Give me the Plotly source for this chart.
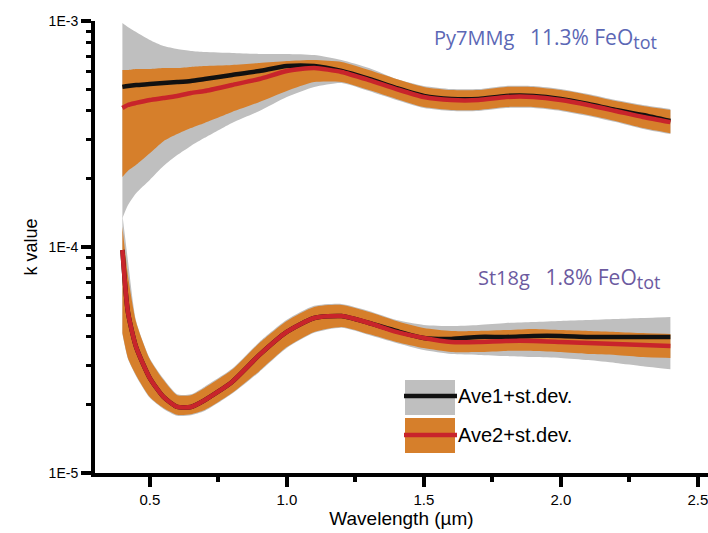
import plotly.graph_objects as go

# ---------------- data (k value vs wavelength) ----------------
wavelength = [0.40, 0.42, 0.45, 0.50, 0.55, 0.60, 0.65, 0.70, 0.80, 0.90, 1.00, 1.10, 1.20,
              1.30, 1.40, 1.50, 1.60, 1.70, 1.80, 1.90, 2.00, 2.10, 2.20, 2.30, 2.40]

# Py7MMg  (11.3% FeO_tot)
py_ave1 = [5.11e-4, 5.16e-4, 5.21e-4, 5.26e-4, 5.32e-4, 5.37e-4, 5.43e-4, 5.54e-4, 5.77e-4, 6.01e-4,
           6.32e-4, 6.32e-4, 6.01e-4, 5.54e-4, 5.05e-4, 4.66e-4, 4.52e-4, 4.52e-4, 4.66e-4, 4.66e-4,
           4.52e-4, 4.29e-4, 4.04e-4, 3.84e-4, 3.61e-4]
py_ave1_hi = [9.80e-4, 9.41e-4, 8.94e-4, 8.24e-4, 7.75e-4, 7.52e-4, 7.37e-4, 7.29e-4, 7.22e-4, 7.15e-4,
              7.15e-4, 7.07e-4, 6.72e-4, 6.19e-4, 5.54e-4, 5.16e-4, 5.00e-4, 5.00e-4, 5.16e-4, 5.16e-4,
              5.00e-4, 4.75e-4, 4.47e-4, 4.25e-4, 4.08e-4]
py_ave1_lo = [1.34e-4, 1.53e-4, 1.73e-4, 1.98e-4, 2.28e-4, 2.55e-4, 2.80e-4, 3.04e-4, 3.54e-4, 4.00e-4,
              4.61e-4, 5.11e-4, 5.32e-4, 4.90e-4, 4.47e-4, 4.12e-4, 4.00e-4, 4.00e-4, 4.12e-4, 4.12e-4,
              4.00e-4, 3.80e-4, 3.57e-4, 3.33e-4, 3.16e-4]
py_ave2 = [4.12e-4, 4.25e-4, 4.34e-4, 4.47e-4, 4.56e-4, 4.66e-4, 4.80e-4, 4.90e-4, 5.21e-4, 5.54e-4,
           6.01e-4, 6.19e-4, 5.95e-4, 5.48e-4, 5.00e-4, 4.61e-4, 4.47e-4, 4.47e-4, 4.61e-4, 4.61e-4,
           4.47e-4, 4.25e-4, 4.00e-4, 3.76e-4, 3.57e-4]
py_ave2_hi = [6.07e-4, 6.07e-4, 6.13e-4, 6.13e-4, 6.19e-4, 6.19e-4, 6.26e-4, 6.32e-4, 6.39e-4, 6.52e-4,
              6.65e-4, 6.72e-4, 6.59e-4, 6.07e-4, 5.54e-4, 5.11e-4, 4.95e-4, 4.95e-4, 5.11e-4, 5.11e-4,
              4.95e-4, 4.71e-4, 4.43e-4, 4.21e-4, 4.04e-4]
py_ave2_lo = [2.04e-4, 2.17e-4, 2.31e-4, 2.60e-4, 2.94e-4, 3.16e-4, 3.36e-4, 3.54e-4, 3.96e-4, 4.38e-4,
              4.90e-4, 5.37e-4, 5.37e-4, 4.95e-4, 4.52e-4, 4.16e-4, 4.04e-4, 4.04e-4, 4.16e-4, 4.16e-4,
              4.04e-4, 3.84e-4, 3.61e-4, 3.36e-4, 3.19e-4]

# St18g  (1.8% FeO_tot)
st_ave1 = [9.70e-5, 5.16e-5, 3.61e-5, 2.63e-5, 2.17e-5, 1.96e-5, 1.96e-5, 2.10e-5, 2.53e-5, 3.33e-5,
           4.21e-5, 4.85e-5, 4.95e-5, 4.61e-5, 4.25e-5, 3.96e-5, 3.92e-5, 4.00e-5, 4.00e-5, 4.04e-5,
           4.04e-5, 4.00e-5, 4.00e-5, 4.00e-5, 4.00e-5]
st_ave1_hi = [1.39e-4, 8.76e-5, 4.71e-5, 3.22e-5, 2.61e-5, 2.23e-5, 2.23e-5, 2.41e-5, 2.89e-5, 3.80e-5,
              4.76e-5, 5.49e-5, 5.60e-5, 5.21e-5, 4.75e-5, 4.52e-5, 4.47e-5, 4.52e-5, 4.61e-5, 4.66e-5,
              4.71e-5, 4.75e-5, 4.80e-5, 4.85e-5, 4.90e-5]
st_ave1_lo = [4.12e-5, 3.20e-5, 2.68e-5, 2.15e-5, 1.92e-5, 1.79e-5, 1.80e-5, 1.88e-5, 2.24e-5, 2.80e-5,
              3.57e-5, 4.17e-5, 4.39e-5, 4.08e-5, 3.76e-5, 3.50e-5, 3.36e-5, 3.33e-5, 3.29e-5, 3.26e-5,
              3.23e-5, 3.16e-5, 3.07e-5, 2.97e-5, 2.88e-5]
st_ave2 = [9.70e-5, 5.16e-5, 3.61e-5, 2.63e-5, 2.17e-5, 1.96e-5, 1.96e-5, 2.10e-5, 2.53e-5, 3.33e-5,
           4.21e-5, 4.85e-5, 4.95e-5, 4.61e-5, 4.21e-5, 3.96e-5, 3.80e-5, 3.80e-5, 3.84e-5, 3.84e-5,
           3.80e-5, 3.76e-5, 3.72e-5, 3.68e-5, 3.65e-5]
st_ave2_hi = [1.23e-4, 7.52e-5, 4.66e-5, 3.19e-5, 2.58e-5, 2.21e-5, 2.21e-5, 2.38e-5, 2.86e-5, 3.76e-5,
              4.71e-5, 5.43e-5, 5.54e-5, 5.16e-5, 4.71e-5, 4.38e-5, 4.25e-5, 4.25e-5, 4.29e-5, 4.34e-5,
              4.29e-5, 4.25e-5, 4.21e-5, 4.16e-5, 4.12e-5]
st_ave2_lo = [4.16e-5, 3.23e-5, 2.71e-5, 2.17e-5, 1.94e-5, 1.81e-5, 1.82e-5, 1.90e-5, 2.26e-5, 2.83e-5,
              3.61e-5, 4.21e-5, 4.43e-5, 4.12e-5, 3.80e-5, 3.57e-5, 3.43e-5, 3.43e-5, 3.47e-5, 3.47e-5,
              3.43e-5, 3.36e-5, 3.33e-5, 3.26e-5, 3.23e-5]

y_tick_vals = [1e-5, 1e-4, 1e-3]
y_tick_text = ["1E-5", "1E-4", "1E-3"]
y_minor_vals = [m * d for d in (1e-5, 1e-4) for m in range(2, 10)]
x_tick_vals = [0.5, 1.0, 1.5, 2.0, 2.5]
x_tick_text = ["0.5", "1.0", "1.5", "2.0", "2.5"]
x_minor_vals = [0.75, 1.25, 1.75, 2.25]

legend_labels = ["Ave1+st.dev.", "Ave2+st.dev."]

# ---------------- styling ----------------
GRAY = "#BFBFBF"
ORANGE = "#D67F2B"
RED = "#C8242B"
BLACK = "#111111"
FONT = "Liberation Sans, Arial, sans-serif"
LABEL_FONT = "Open Sans, sans-serif"

fig = go.Figure()


def band(lo, hi, color):
    fig.add_trace(go.Scatter(x=wavelength, y=lo, mode="lines",
                             line=dict(width=0, color=color, shape="spline", smoothing=0.6),
                             showlegend=False, hoverinfo="skip"))
    fig.add_trace(go.Scatter(x=wavelength, y=hi, mode="lines",
                             line=dict(width=0, color=color, shape="spline", smoothing=0.6),
                             fill="tonexty", fillcolor=color, showlegend=False, hoverinfo="skip"))


def line(y, color):
    fig.add_trace(go.Scatter(x=wavelength, y=y, mode="lines",
                             line=dict(width=4.5, color=color, shape="spline", smoothing=0.6),
                             showlegend=False))


band(py_ave1_lo, py_ave1_hi, GRAY)
band(st_ave1_lo, st_ave1_hi, GRAY)
band(py_ave2_lo, py_ave2_hi, ORANGE)
band(st_ave2_lo, st_ave2_hi, ORANGE)
line(py_ave1, BLACK)
line(st_ave1, BLACK)
line(py_ave2, RED)
line(st_ave2, RED)

# ---------------- layout ----------------
L, R, T, B = 95, 0, 21, 60
W, H = 708, 533
pw, ph = W - L - R, H - T - B


def px(xp):
    return (xp - L) / pw


def py(yp):
    return (H - B - yp) / ph


fig.update_layout(
    width=W, height=H,
    margin=dict(l=L, r=R, t=T, b=B),
    paper_bgcolor="white", plot_bgcolor="white",
    font=dict(family=FONT, color="black"),
    showlegend=False,
    xaxis=dict(
        range=[0.30, 0.30 + pw / 274.0],
        showgrid=False, zeroline=False,
        showline=True, linewidth=4, linecolor="black",
        ticks="outside", ticklen=10, tickwidth=4, tickcolor="black",
        tickmode="array", tickvals=x_tick_vals, ticktext=x_tick_text,
        ticklabeloverflow="allow",
        tickfont=dict(size=15, family=FONT),
        minor=dict(tickmode="array", tickvals=x_minor_vals, ticks="outside", ticklen=5, tickwidth=4,
                   tickcolor="black", showgrid=False),
        title=dict(text="Wavelength (\u00b5m)", font=dict(size=19, family=FONT), standoff=4),
    ),
    yaxis=dict(
        type="log", range=[-5, -3],
        showgrid=False, zeroline=False,
        showline=True, linewidth=4, linecolor="black",
        ticks="outside", ticklen=10, tickwidth=4, tickcolor="black",
        tickmode="array", tickvals=y_tick_vals, ticktext=y_tick_text,
        tickfont=dict(size=14, family=FONT),
        minor=dict(tickmode="array", tickvals=y_minor_vals, ticks="outside", ticklen=5, tickwidth=3,
                   tickcolor="black", showgrid=False),
        title=dict(text="k value", font=dict(size=18, family=FONT), standoff=7),
    ),
)

NB = "\u00a0"
SUB = "<sub><span style='font-size:18px'>tot</span></sub>"
fig.add_annotation(xref="paper", yref="paper", x=px(432), y=py(38), xanchor="left", yanchor="middle",
                   text="Py7MMg" + NB * 3 + "<span style='font-size:21px'>11.3% FeO</span>" + SUB,
                   showarrow=False, font=dict(size=20, family=LABEL_FONT, color="#5B67B5"))
fig.add_annotation(xref="paper", yref="paper", x=px(476), y=py(278), xanchor="left", yanchor="middle",
                   text="St18g" + NB * 3 + "<span style='font-size:21px'>1.8% FeO</span>" + SUB,
                   showarrow=False, font=dict(size=20, family=LABEL_FONT, color="#6C5A9F"))

# custom legend (box = st.dev. band, line = average)
for (y0, y1, yl, fc, lc, lab) in [(380, 415, 396, GRAY, BLACK, legend_labels[0]),
                                   (418, 453, 435, ORANGE, RED, legend_labels[1])]:
    fig.add_shape(type="rect", xref="paper", yref="paper", x0=px(405), x1=px(455), y0=py(y1), y1=py(y0),
                  fillcolor=fc, line=dict(width=0), layer="above")
    fig.add_shape(type="line", xref="paper", yref="paper", x0=px(404), x1=px(457), y0=py(yl), y1=py(yl),
                  line=dict(color=lc, width=4.5), layer="above")
    fig.add_annotation(xref="paper", yref="paper", x=px(456), y=py(yl), xanchor="left", yanchor="middle",
                       text=lab, showarrow=False, font=dict(size=20, family=FONT, color="black"))

fig.write_html("out.html")
